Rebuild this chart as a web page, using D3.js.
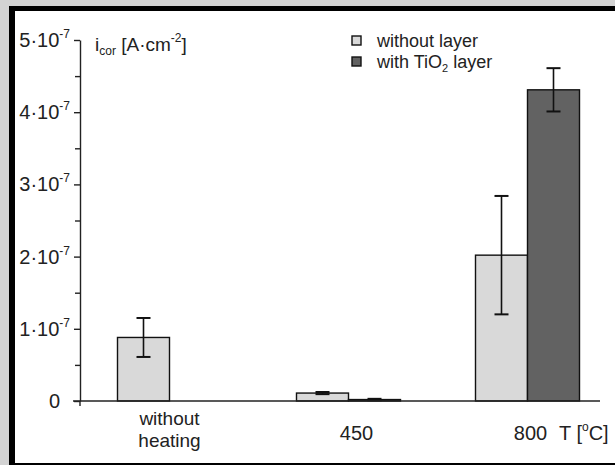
<!DOCTYPE html>
<html>
<head>
<meta charset="utf-8">
<script src="https://cdn.jsdelivr.net/npm/d3@7"></script>
<style>
  body { margin: 0; background: #d3d3d3; }
  svg { display: block; font-family: "Liberation Sans", Arial, sans-serif; }
</style>
</head>
<body>
<div class="canvas"></div>
<script>
// data
const categories = ['without heating', '450', '800'];
const series = ['without layer', 'with TiO2 layer'];
const withoutLayer = [0.88e-7, 0.11e-7, 2.02e-7];
const withoutLayerErr = [0.27e-7, 0.015e-7, 0.82e-7];
const withLayer = [null, 0.02e-7, 4.31e-7];
const withLayerErr = [null, 0.01e-7, 0.30e-7];
const yTicks = [0, 1e-7, 2e-7, 3e-7, 4e-7, 5e-7];
const yMinorTicks = [0.5e-7, 1.5e-7, 2.5e-7, 3.5e-7, 4.5e-7];
const colors = ['#d9d9d9', '#626262'];

const width = 615, height = 465;

const svg = d3.select('.canvas')
  .append('svg')
    .attr('width', width)
    .attr('height', height);

// frame: grey page, black border, white panel
svg.append('rect').attr('width', width).attr('height', height).attr('fill', '#d3d3d3');
svg.append('rect').attr('x', 9).attr('y', 6).attr('width', width).attr('height', height).attr('fill', '#000');
svg.append('rect').attr('x', 15).attr('y', 11).attr('width', width).attr('height', 452).attr('fill', '#fff');

// scales
const y = d3.scaleLinear().domain([0, 5e-7]).range([401, 40]);
const x0 = d3.scaleBand().domain(categories).range([80, 617]).padding(0);
const barW = 52;
const x1 = d3.scaleBand().domain(series).range([0, barW * 2]).padding(0);

const rows = categories.map((c, i) => ({
  cat: c,
  vals: [
    { s: series[0], v: withoutLayer[i], e: withoutLayerErr[i] },
    { s: series[1], v: withLayer[i], e: withLayerErr[i] }
  ]
}));

const groups = svg.selectAll('g.grp')
  .data(rows)
  .enter().append('g')
    .attr('class', 'grp')
    .attr('transform', d => `translate(${x0(d.cat) + x0.bandwidth() / 2 - barW}, 0)`);

const bars = groups.selectAll('g.bar')
  .data(d => d.vals.filter(v => v.v != null))
  .enter().append('g').attr('class', 'bar');

bars.append('rect')
  .attr('x', d => x1(d.s))
  .attr('y', d => y(d.v))
  .attr('width', x1.bandwidth())
  .attr('height', d => y(0) - y(d.v))
  .attr('fill', d => colors[series.indexOf(d.s)])
  .attr('stroke', '#111')
  .attr('stroke-width', 1.4);

// error bars
const cap = 7;
bars.append('line')
  .attr('x1', d => x1(d.s) + x1.bandwidth() / 2)
  .attr('x2', d => x1(d.s) + x1.bandwidth() / 2)
  .attr('y1', d => y(d.v + d.e))
  .attr('y2', d => y(d.v - d.e))
  .attr('stroke', '#111').attr('stroke-width', 1.6);
bars.selectAll('line.cap')
  .data(d => [d.v + d.e, d.v - d.e].map(v => ({ v, cx: x1(d.s) + x1.bandwidth() / 2 })))
  .enter().append('line')
    .attr('class', 'cap')
    .attr('x1', d => d.cx - cap)
    .attr('x2', d => d.cx + cap)
    .attr('y1', d => y(d.v))
    .attr('y2', d => y(d.v))
    .attr('stroke', '#111').attr('stroke-width', 2);

// x baseline
svg.append('line')
  .attr('x1', 73).attr('x2', 600)
  .attr('y1', y(0)).attr('y2', y(0))
  .attr('stroke', '#222').attr('stroke-width', 1.4);

// y axis
const yAxisGroup = svg.append('g').attr('transform', 'translate(80, 0)');
yAxisGroup.call(d3.axisLeft(y).tickValues(yTicks).tickSize(6).tickSizeOuter(0).tickFormat(''));
const yMinor = svg.append('g').attr('transform', 'translate(80, 0)');
yMinor.call(d3.axisLeft(y).tickValues(yMinorTicks).tickSize(5).tickSizeOuter(0).tickFormat(''));
yMinor.select('.domain').remove();
svg.selectAll('.tick line').attr('stroke', '#222').attr('stroke-width', 1.4);
yAxisGroup.select('.domain').attr('stroke', '#222').attr('stroke-width', 1.4);
svg.append('line')
  .attr('x1', 80).attr('x2', 80)
  .attr('y1', y(0)).attr('y2', y(0) + 5)
  .attr('stroke', '#222').attr('stroke-width', 1.4);

// y tick labels
const ylab = svg.selectAll('text.ylab')
  .data(yTicks)
  .enter().append('text')
    .attr('class', 'ylab')
    .attr('text-anchor', 'end')
    .attr('x', d => d === 0 ? 60 : 70)
    .attr('y', d => y(d) + 7)
    .attr('font-size', 20)
    .attr('fill', '#222');
ylab.each(function(d) {
  const t = d3.select(this);
  if (d === 0) { t.text('0'); return; }
  t.append('tspan').text(`${Math.round(d / 1e-7)}·10`);
  t.append('tspan').attr('dy', -9).attr('font-size', 12).text('-7');
});

// y title
const yt = svg.append('text').attr('x', 95).attr('y', 51).attr('font-size', 19).attr('fill', '#222');
yt.append('tspan').text('i');
yt.append('tspan').attr('dy', 4).attr('font-size', 12).text('cor');
yt.append('tspan').attr('dy', -4).text(' [A·cm');
yt.append('tspan').attr('dy', -9).attr('font-size', 12).text('-2');
yt.append('tspan').attr('dy', 9).text(']');

// category labels
const cx = c => x0(c) + x0.bandwidth() / 2;
const catLab = svg.append('g').attr('font-size', 19).attr('fill', '#222').attr('text-anchor', 'middle');
catLab.append('text').attr('x', cx(categories[0])).attr('y', 425).text('without');
catLab.append('text').attr('x', cx(categories[0])).attr('y', 447).text('heating');
catLab.append('text').attr('x', cx(categories[1]) + 8).attr('y', 440).attr('font-size', 20).text(categories[1]);
catLab.append('text').attr('x', cx(categories[2]) + 3).attr('y', 440).attr('font-size', 20).text(categories[2]);

const tl = svg.append('text').attr('x', 559).attr('y', 440).attr('font-size', 20).attr('fill', '#222');
tl.append('tspan').text('T [');
tl.append('tspan').attr('dy', -9).attr('font-size', 12).text('o');
tl.append('tspan').attr('dy', 9).text('C]');

// legend
const legend = svg.append('g').attr('transform', 'translate(352, 36)');
const li = legend.selectAll('g')
  .data(series)
  .enter().append('g')
    .attr('transform', (d, i) => `translate(0, ${i * 21})`);
li.append('rect')
  .attr('width', 9).attr('height', 9)
  .attr('fill', (d, i) => colors[i])
  .attr('stroke', '#111').attr('stroke-width', 1.4);
li.append('text')
  .attr('x', 25).attr('y', 11)
  .attr('font-size', 18).attr('fill', '#222')
  .each(function(d) {
    const t = d3.select(this);
    if (d === 'with TiO2 layer') {
      t.append('tspan').text('with TiO');
      t.append('tspan').attr('dy', 4).attr('font-size', 11).text('2');
      t.append('tspan').attr('dy', -4).text(' layer');
    } else {
      t.text(d);
    }
  });
</script>
</body>
</html>
